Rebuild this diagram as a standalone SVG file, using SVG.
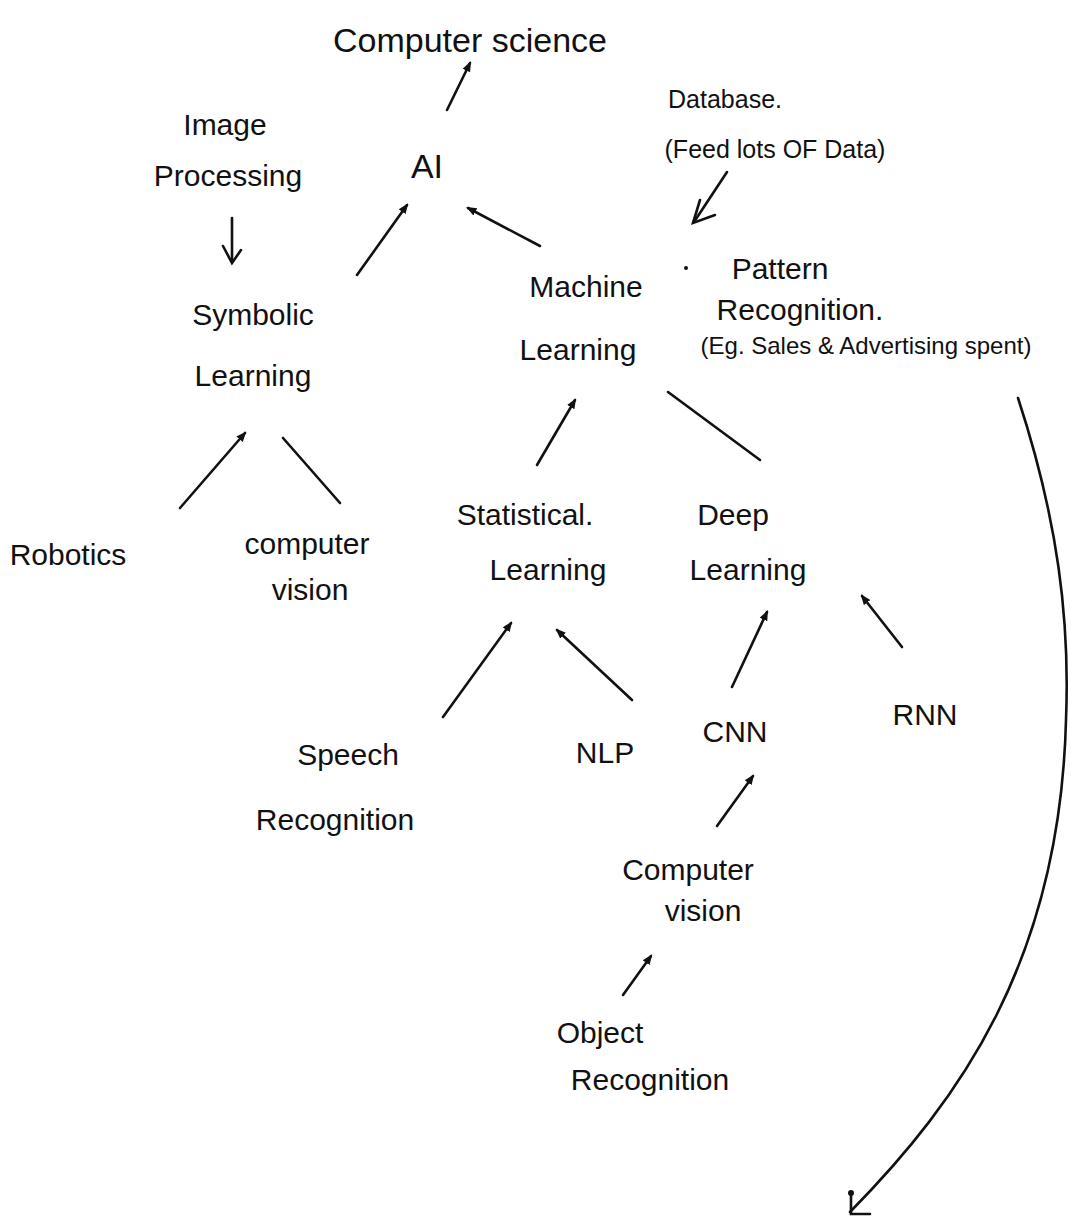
<svg xmlns="http://www.w3.org/2000/svg" width="1071" height="1221" viewBox="0 0 1071 1221">
  <style>
    .lbl { font-family: "Liberation Sans", Arial, sans-serif; font-size: 30px; fill: #111; text-anchor: middle; }
    .sm { font-size: 25px; }
    .xs { font-size: 24px; }
    .big { font-size: 34px; }
    .edge { fill: none; stroke: #111; stroke-width: 2.6; stroke-linecap: round; }
  </style>
  <defs>
    <marker id="tip" viewBox="0 0 10 10" refX="8" refY="5" markerWidth="4" markerHeight="4" orient="auto">
      <path d="M0,1 L10,5 L0,9 Z" fill="#111"/>
    </marker>
  </defs>

  <rect width="1071" height="1221" fill="#ffffff"/>

  <!-- connectors -->
  <g id="connectors">
    <line class="edge" x1="447" y1="110" x2="470" y2="63" marker-end="url(#tip)"/>
    <line class="edge" x1="357" y1="275" x2="407" y2="205" marker-end="url(#tip)"/>
    <line class="edge" x1="540" y1="246" x2="468" y2="208" marker-end="url(#tip)"/>
    <!-- Image Processing -> Symbolic Learning -->
    <line class="edge" x1="232" y1="218" x2="232" y2="262"/>
    <path class="edge" d="M223,246 L232,263 L241,250"/>
    <!-- Database -> Pattern Recognition -->
    <line class="edge" x1="727" y1="172" x2="694" y2="222"/>
    <path class="edge" d="M700,200 L693,223 L715,215"/>
    <line class="edge" x1="180" y1="508" x2="245" y2="433" marker-end="url(#tip)"/>
    <line class="edge" x1="340" y1="503" x2="283" y2="438"/>
    <line class="edge" x1="537" y1="465" x2="575" y2="400" marker-end="url(#tip)"/>
    <line class="edge" x1="668" y1="392" x2="760" y2="460"/>
    <line class="edge" x1="443" y1="717" x2="511" y2="623" marker-end="url(#tip)"/>
    <line class="edge" x1="632" y1="700" x2="557" y2="630" marker-end="url(#tip)"/>
    <line class="edge" x1="732" y1="687" x2="767" y2="612" marker-end="url(#tip)"/>
    <line class="edge" x1="902" y1="647" x2="862" y2="596" marker-end="url(#tip)"/>
    <line class="edge" x1="717" y1="826" x2="753" y2="776" marker-end="url(#tip)"/>
    <line class="edge" x1="623" y1="995" x2="651" y2="956" marker-end="url(#tip)"/>
    <!-- long curve from Pattern Recognition -->
    <path class="edge" d="M1018,398 C1058,520 1070,620 1066,720 C1060,960 960,1100 850,1212" stroke-width="2"/>
    <path class="edge" d="M851,1192 L851,1214 L870,1214"/>
    <circle cx="851" cy="1193" r="3" fill="#111"/>
    <circle cx="686" cy="268" r="2" fill="#111"/>
  </g>

  <g id="computer-science"><text class="lbl big" x="470" y="52">Computer science</text></g>
  <g id="image-processing">
    <text class="lbl" x="225" y="135">Image</text>
    <text class="lbl" x="228" y="186">Processing</text>
  </g>
  <g id="ai"><text class="lbl big" x="427" y="178">AI</text></g>
  <g id="database">
    <text class="lbl sm" x="725" y="108">Database.</text>
    <text class="lbl sm" x="775" y="158">(Feed lots OF Data)</text>
  </g>
  <g id="machine-learning">
    <text class="lbl" x="586" y="297">Machine</text>
    <text class="lbl" x="578" y="360">Learning</text>
  </g>
  <g id="pattern-recognition">
    <text class="lbl" x="780" y="279">Pattern</text>
    <text class="lbl" x="800" y="320">Recognition.</text>
    <text class="lbl xs" x="866" y="354">(Eg. Sales &amp; Advertising spent)</text>
  </g>
  <g id="symbolic-learning">
    <text class="lbl" x="253" y="325">Symbolic</text>
    <text class="lbl" x="253" y="386">Learning</text>
  </g>
  <g id="robotics"><text class="lbl" x="68" y="565">Robotics</text></g>
  <g id="computer-vision-1">
    <text class="lbl" x="307" y="554">computer</text>
    <text class="lbl" x="310" y="600">vision</text>
  </g>
  <g id="statistical-learning">
    <text class="lbl" x="525" y="525">Statistical.</text>
    <text class="lbl" x="548" y="580">Learning</text>
  </g>
  <g id="deep-learning">
    <text class="lbl" x="733" y="525">Deep</text>
    <text class="lbl" x="748" y="580">Learning</text>
  </g>
  <g id="speech-recognition">
    <text class="lbl" x="348" y="765">Speech</text>
    <text class="lbl" x="335" y="830">Recognition</text>
  </g>
  <g id="nlp"><text class="lbl" x="605" y="763">NLP</text></g>
  <g id="cnn"><text class="lbl" x="735" y="742">CNN</text></g>
  <g id="rnn"><text class="lbl" x="925" y="725">RNN</text></g>
  <g id="computer-vision-2">
    <text class="lbl" x="688" y="880">Computer</text>
    <text class="lbl" x="703" y="921">vision</text>
  </g>
  <g id="object-recognition">
    <text class="lbl" x="600" y="1043">Object</text>
    <text class="lbl" x="650" y="1090">Recognition</text>
  </g>
</svg>
